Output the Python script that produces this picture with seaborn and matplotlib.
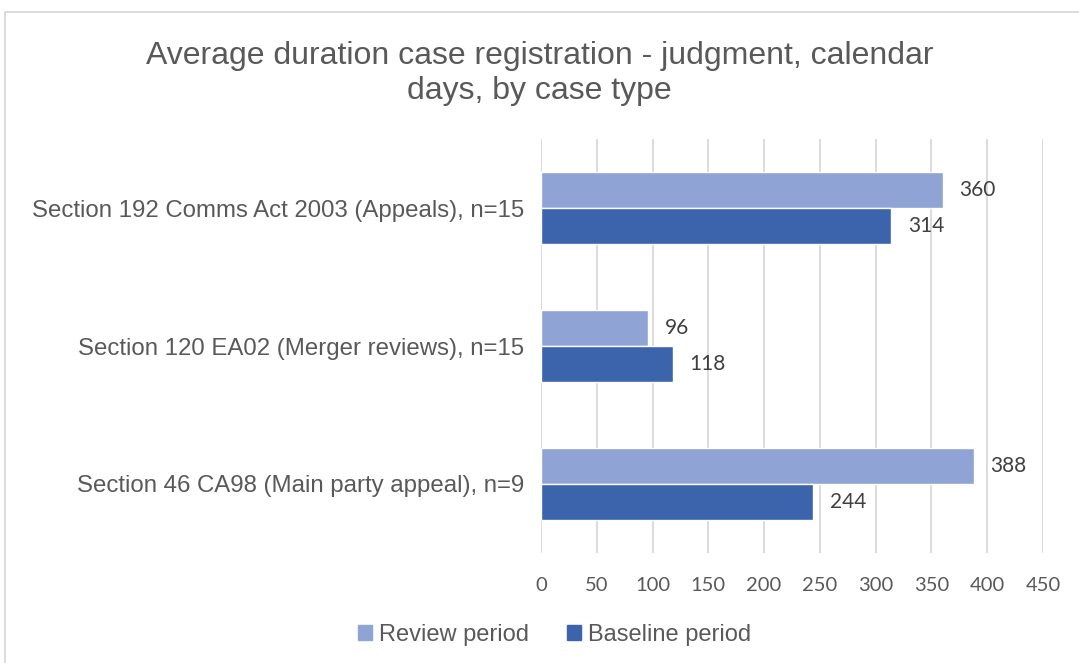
import pandas as pd
import seaborn as sns
import matplotlib.pyplot as plt
from matplotlib.patches import Rectangle

# données du graphique
categories = ['Section 192 Comms Act 2003 (Appeals), n=15',
              'Section 120 EA02 (Merger reviews), n=15',
              'Section 46 CA98 (Main party appeal), n=9']
review = [360, 96, 388]
baseline = [314, 118, 244]
series = ['Review period', 'Baseline period']
ticks = [0, 50, 100, 150, 200, 250, 300, 350, 400, 450]

df = pd.DataFrame({
    'cat': categories * 2,
    'periode': [series[0]] * 3 + [series[1]] * 3,
    'jours': review + baseline,
})

sns.set_theme(style='white')
plt.rcParams['font.family'] = ['Liberation Sans', 'DejaVu Sans']

fig = plt.figure(figsize=(10.79, 6.63), dpi=100)
ax = fig.add_axes([0.5014, 0.166, 0.4652, 0.624])

couleurs = ['#8FA4D4', '#3C64AC']
sns.barplot(data=df, y='cat', x='jours', hue='periode', hue_order=series,
            order=categories, palette=couleurs, width=0.52, orient='h',
            saturation=1, ax=ax, legend=False, zorder=3)

ax.set_xlim(0, 450)
ax.set_xticks(ticks)
ax.set_xticklabels([str(t) for t in ticks], family='Lato', fontsize=14.5, color='#595959')
ax.tick_params(axis='x', length=0, pad=17)
ax.tick_params(axis='y', length=0, pad=12)
for lab in ax.get_yticklabels():
    lab.set_fontsize(17.3)
    lab.set_color('#595959')
ax.set_xlabel('')
ax.set_ylabel('')
ax.grid(axis='x', color='#D9D9D9', linewidth=1.3, zorder=0)
for s in ax.spines.values():
    s.set_visible(False)

# étiquettes de valeurs
for cont in ax.containers:
    ax.bar_label(cont, padding=12, fontsize=15, color='#404040', family='Lato')

# titre
fig.text(0.5, 0.889, 'Average duration case registration - judgment, calendar\ndays, by case type',
         ha='center', va='center', fontsize=23, color='#595959', linespacing=1.2)

# légende
handles = [Rectangle((0, 0), 1, 1, color=c) for c in couleurs]
fig.legend(handles, series, loc='center', bbox_to_anchor=(0.514, 0.042), ncol=2,
           frameon=False, fontsize=17, handlelength=0.6, handleheight=0.6,
           handletextpad=0.3, columnspacing=1.6, labelcolor='#595959')

# cadre
fig.patches.append(Rectangle((5 / 1079, -0.05), 1.1, 1 - 12 / 663 + 0.05,
                             transform=fig.transFigure, fill=False,
                             edgecolor='#D9D9D9', linewidth=1.3))

fig.savefig('out.png', dpi=100)
